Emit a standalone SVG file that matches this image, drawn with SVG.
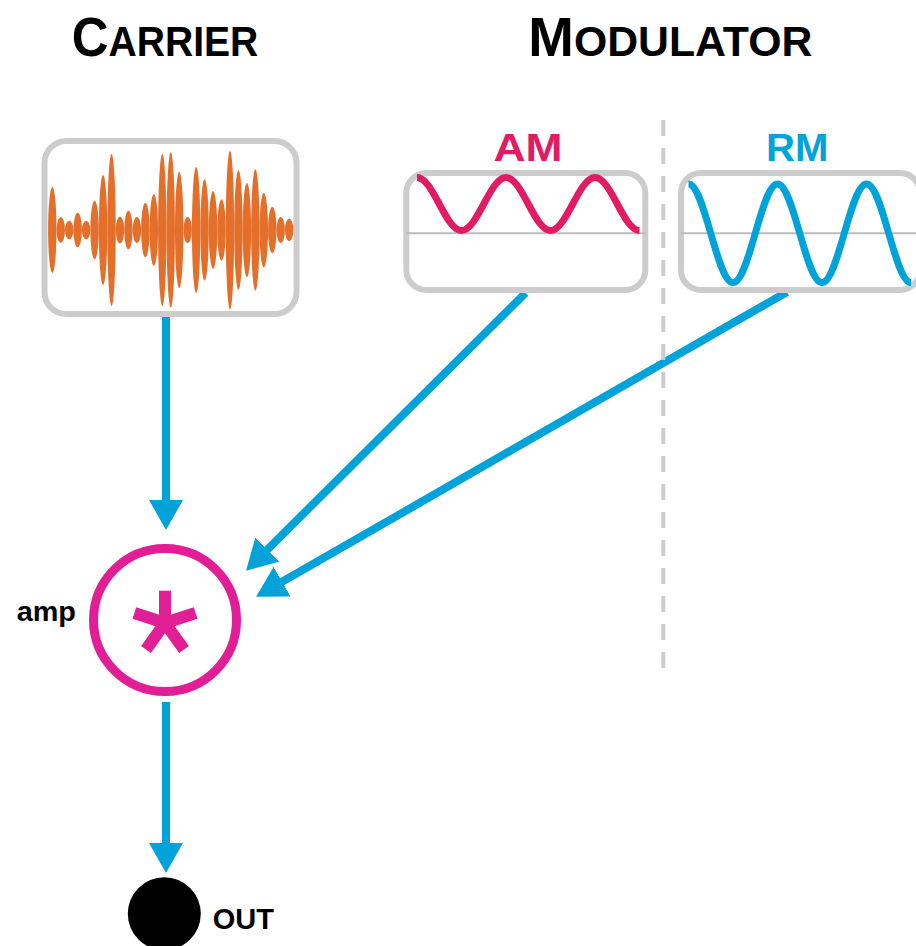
<svg xmlns="http://www.w3.org/2000/svg" width="916" height="946" viewBox="0 0 916 946">
  <style>
    .title{font-family:"Liberation Sans",Arial,sans-serif;font-weight:bold;fill:#000}
    .label{font-family:"Liberation Sans",Arial,sans-serif;font-weight:bold}
    .frame{fill:#fff;stroke:#cccccc;stroke-width:6}
    .axis{stroke:#bbbbbb;stroke-width:2}
    .burst{fill:#E36F2A}
    .wire{stroke:#00A3D9;stroke-width:8;fill:none;marker-end:url(#head)}
  </style>
  <defs>
    <marker id="head" markerUnits="userSpaceOnUse" viewBox="0 0 30 34" markerWidth="30" markerHeight="34" refX="1" refY="17" orient="auto">
      <path d="M0,0 L30,17 L0,34 Z" fill="#00A3D9"/>
    </marker>
  </defs>

  <rect width="916" height="946" fill="#fff"/>

  <!-- column headings -->
  <g id="heading-carrier">
    <text class="title" x="71.7" y="56" textLength="186.6" lengthAdjust="spacingAndGlyphs"><tspan font-size="56">C</tspan><tspan font-size="43">ARRIER</tspan></text>
  </g>
  <g id="heading-modulator">
    <text class="title" x="528.3" y="55.7" textLength="284" lengthAdjust="spacingAndGlyphs"><tspan font-size="55">M</tspan><tspan font-size="43">ODULATOR</tspan></text>
  </g>

  <!-- connectors -->
  <g id="connectors">
    <line class="wire" x1="166" y1="317" x2="166" y2="501"/>
    <line class="wire" x1="525.5" y1="293" x2="266.6" y2="550.3"/>
    <line class="wire" x1="787" y1="292" x2="281.2" y2="582.3"/>
    <line class="wire" x1="166" y1="702" x2="166" y2="844"/>
  </g>

  <!-- divider between AM and RM -->
  <line x1="663.3" y1="120" x2="663.3" y2="668" stroke="#cccccc" stroke-width="4" stroke-dasharray="16 12"/>

  <!-- carrier signal -->
  <g id="carrier">
    <rect class="frame" x="44.5" y="141" width="252" height="173" rx="22"/>
    <g class="burst">
      <ellipse cx="52.3" cy="230" rx="4.2" ry="43"/>
      <ellipse cx="60.76" cy="230" rx="4.2" ry="12.7"/>
      <ellipse cx="69.22" cy="230" rx="4.2" ry="9.3"/>
      <ellipse cx="77.68" cy="230" rx="4.2" ry="17.3"/>
      <ellipse cx="86.14" cy="230" rx="4.2" ry="9.3"/>
      <ellipse cx="94.6" cy="230" rx="4.2" ry="29.3"/>
      <ellipse cx="103.06" cy="230" rx="4.2" ry="55"/>
      <ellipse cx="111.52" cy="230" rx="4.2" ry="76"/>
      <ellipse cx="119.98" cy="230" rx="4.2" ry="13.3"/>
      <ellipse cx="128.44" cy="230" rx="4.2" ry="19.3"/>
      <ellipse cx="136.9" cy="230" rx="4.2" ry="13"/>
      <ellipse cx="145.36" cy="230" rx="4.2" ry="27.3"/>
      <ellipse cx="153.82" cy="230" rx="4.2" ry="36"/>
      <ellipse cx="162.28" cy="230" rx="4.2" ry="76"/>
      <ellipse cx="170.74" cy="230" rx="4.2" ry="77.7"/>
      <ellipse cx="179.2" cy="230" rx="4.2" ry="58.3"/>
      <ellipse cx="187.66" cy="230" rx="4.2" ry="13"/>
      <ellipse cx="196.12" cy="230" rx="4.2" ry="63"/>
      <ellipse cx="204.58" cy="230" rx="4.2" ry="50.7"/>
      <ellipse cx="213.04" cy="230" rx="4.2" ry="39"/>
      <ellipse cx="221.5" cy="230" rx="4.2" ry="30.7"/>
      <ellipse cx="229.96" cy="230" rx="4.2" ry="79.3"/>
      <ellipse cx="238.42" cy="230" rx="4.2" ry="59.7"/>
      <ellipse cx="246.88" cy="230" rx="4.2" ry="47.3"/>
      <ellipse cx="255.34" cy="230" rx="4.2" ry="60.7"/>
      <ellipse cx="263.8" cy="230" rx="4.2" ry="37.3"/>
      <ellipse cx="272.26" cy="230" rx="4.2" ry="23.3"/>
      <ellipse cx="280.72" cy="230" rx="4.2" ry="13"/>
      <ellipse cx="289.18" cy="230" rx="4.2" ry="11.3"/>
    </g>
  </g>

  <!-- AM modulator: unipolar sine -->
  <g id="am">
    <text class="label" x="528" y="160.7" font-size="39" fill="#E21C64" text-anchor="middle" textLength="69" lengthAdjust="spacingAndGlyphs">AM</text>
    <rect class="frame" x="406.3" y="173" width="239" height="117" rx="20"/>
    <line class="axis" x1="406" y1="233.3" x2="645" y2="233.3"/>
    <path d="M417,177.5 C433.17,177.5 445.33,230.5 461.5,230.5 S489.83,177.5 506,177.5 S534.33,230.5 550.5,230.5 S578.83,177.5 595,177.5 S623.33,230.5 639.5,230.5" fill="none" stroke="#E21C64" stroke-width="7"/>
  </g>

  <!-- RM modulator: bipolar sine -->
  <g id="rm">
    <text class="label" x="797.2" y="161" font-size="39" fill="#00A3D9" text-anchor="middle" textLength="62.3" lengthAdjust="spacingAndGlyphs">RM</text>
    <rect class="frame" x="681" y="173" width="239" height="117" rx="20"/>
    <line class="axis" x1="681" y1="233.3" x2="916" y2="233.3"/>
    <path d="M688.5,184 C704.67,184 716.83,282.7 733,282.7 S761.33,184 777.5,184 S805.83,282.7 822,282.7 S850.33,184 866.5,184 S894.83,282.7 911,282.7" fill="none" stroke="#00A3D9" stroke-width="7"/>
  </g>

  <!-- multiplier -->
  <g id="amp">
    <text class="label" x="16.7" y="621" font-size="27" fill="#000" textLength="59.3" lengthAdjust="spacingAndGlyphs">amp</text>
    <circle cx="165" cy="620" r="71.5" fill="#fff" stroke="#E11E95" stroke-width="9"/>
    <g stroke="#E11E95" stroke-width="12" stroke-linecap="butt">
      <line x1="165" y1="623" x2="165" y2="590.7"/>
      <line x1="165" y1="623" x2="134.4" y2="613"/>
      <line x1="165" y1="623" x2="195.6" y2="613"/>
      <line x1="165" y1="623" x2="146" y2="649.4"/>
      <line x1="165" y1="623" x2="184" y2="649.4"/>
    </g>
  </g>

  <!-- output -->
  <g id="out">
    <circle cx="164.3" cy="913.8" r="36.5" fill="#000"/>
    <text class="label" x="212.7" y="929" font-size="29" fill="#000" textLength="61.3" lengthAdjust="spacingAndGlyphs">OUT</text>
  </g>
</svg>
